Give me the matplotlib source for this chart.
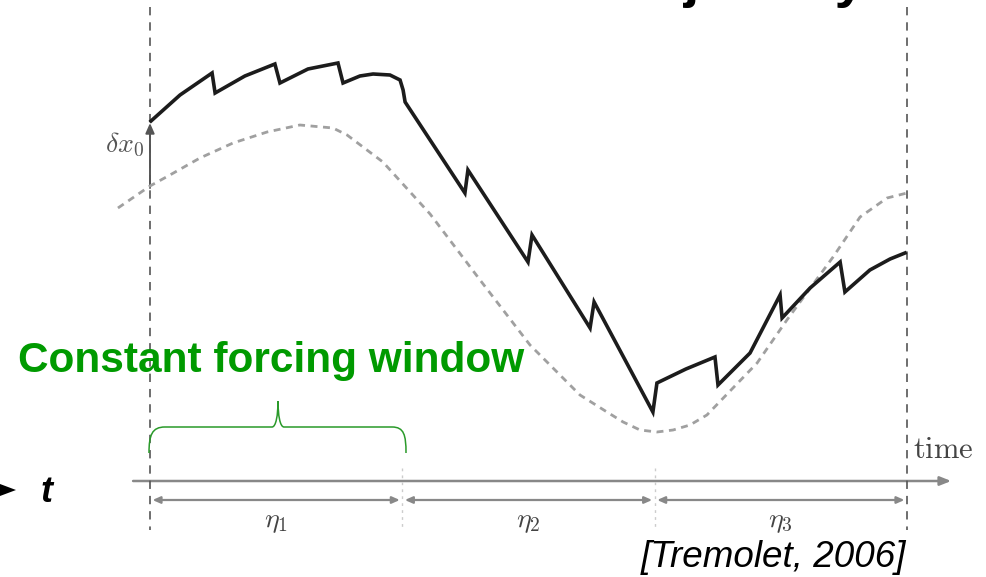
import matplotlib
matplotlib.use("Agg")
import matplotlib.pyplot as plt
from matplotlib.patches import FancyArrowPatch, Rectangle, PathPatch, Polygon
from matplotlib.path import Path

plt.rcParams['mathtext.fontset'] = 'cm'
plt.rcParams['lines.scale_dashes'] = False

# ---------------- data (time in assimilation windows, state in arbitrary units) -------------
window_bounds = [0, 1, 2, 3]
window_labels = [r'$\eta_1$', r'$\eta_2$', r'$\eta_3$']

# weak-constraint trajectory (solid, with jumps at forcing updates)
traj_t = [0.004, 0.119, 0.246, 0.258, 0.376, 0.495, 0.515, 0.626, 0.745, 0.765, 0.832,
          0.884, 0.951, 0.991, 1.003, 1.011, 1.248, 1.260, 1.498, 1.514, 1.744, 1.760,
          1.993, 2.009, 2.124, 2.239, 2.251, 2.378, 2.497, 2.505, 2.616, 2.735, 2.754,
          2.853, 2.933, 2.992]
traj_v = [3.59, 3.85, 4.07, 3.87, 4.04, 4.16, 3.97, 4.11, 4.17, 3.97, 4.04,
          4.06, 4.05, 4.00, 3.90, 3.78, 2.87, 3.10, 2.18, 2.45, 1.52, 1.78,
          0.68, 0.97, 1.11, 1.23, 0.95, 1.27, 1.85, 1.62, 1.92, 2.18, 1.88,
          2.10, 2.21, 2.27]

# background / true trajectory (dashed)
bg_t = [-0.127, 0.000, 0.079, 0.198, 0.329, 0.464, 0.594, 0.725, 0.781, 0.923, 1.110,
        1.308, 1.506, 1.704, 1.811, 1.875, 1.942, 2.009, 2.073, 2.140, 2.207, 2.406,
        2.524, 2.707, 2.814, 2.921, 3.000]
bg_v = [2.72, 2.94, 3.05, 3.22, 3.37, 3.48, 3.55, 3.52, 3.45, 3.18, 2.66,
        2.00, 1.35, 0.85, 0.68, 0.58, 0.50, 0.48, 0.50, 0.55, 0.65, 1.17,
        1.60, 2.23, 2.63, 2.82, 2.87]

dx0_from, dx0_to = 2.92, 3.57

# ---------------- figure ----------------
W, H = 987, 577
fig = plt.figure(figsize=(W / 100, H / 100), dpi=100)
ax = fig.add_axes([0, 0, 1, 1])
ax.set_xlim(-150 / 252.33, 837 / 252.33)
ax.set_ylim(-0.97, 4.80)
ax.axis('off')


def fx(px):
    return px / W


def fy(py):
    return 1 - py / H


clip = Rectangle((-0.198, -0.53), 3.46, 5.26, transform=ax.transData,
                 facecolor='none', edgecolor='none')
ax.add_patch(clip)

# vertical dashed window limits
for tb in [window_bounds[0], window_bounds[-1]]:
    ax.plot([tb, tb], [4.73, -0.50], color='#555555', lw=1.2, dashes=(6, 5))
for tb in window_bounds[1:-1]:
    ax.plot([tb, tb], [0.12, -0.50], color='#cccccc', lw=1.0, dashes=(2, 3))

# dashed background curve
ax.plot(bg_t, bg_v, color='#a0a0a0', lw=2.0, dashes=(5, 4), solid_capstyle='butt')
# solid trajectory
ax.plot(traj_t, traj_v, color='#1c1c1c', lw=2.6, solid_joinstyle='miter')

# delta x0 arrow
ax.add_patch(FancyArrowPatch((0, dx0_from), (0, dx0_to), arrowstyle='-|>,head_length=0.5,head_width=0.22',
                             mutation_scale=12, color='#555555', lw=1.4, shrinkA=0, shrinkB=0))
ax.text(-0.025, 3.35, r'$\delta x_0$', fontsize=20, color='#555555', ha='right', va='center')

# time axis
ax.add_patch(FancyArrowPatch((-0.067, -0.01), (3.175, -0.01), arrowstyle='-|>,head_length=0.55,head_width=0.22',
                             mutation_scale=12, color='#888888', lw=1.8, shrinkA=0, shrinkB=0))
t_time = ax.text(3.024, 0.30, r'$\mathrm{time}$', fontsize=22, color='#444444', ha='left', va='center')
t_time.set_clip_path(clip)

# window double arrows and labels
for i in range(3):
    a, b = window_bounds[i], window_bounds[i + 1]
    ax.add_patch(FancyArrowPatch((a + 0.01, -0.20), (b - 0.01, -0.20),
                                 arrowstyle='<|-|>,head_length=0.45,head_width=0.2',
                                 mutation_scale=10, color='#888888', lw=1.6, shrinkA=0, shrinkB=0))
    tx = ax.text((a + b) / 2, -0.41, window_labels[i], fontsize=20, color='#444444',
                 ha='center', va='center')
    tx.set_clip_path(clip)

# ---------------- slide annotations ----------------
green = '#009a00'
fig.text(fx(18), fy(372), 'Constant forcing window', fontsize=30.5, fontweight='bold',
         color=green, family='Liberation Sans', ha='left', va='baseline')

# brace over first window
brace_verts = [(149, 453), (149, 435), (152, 427), (165, 427),
               (272, 427), (276, 427), (278, 415), (278, 401),
               (278, 415), (280, 427), (284, 427),
               (392, 427), (404, 427), (406, 435), (406, 453)]
brace_codes = [Path.MOVETO, Path.CURVE4, Path.CURVE4, Path.CURVE4,
               Path.LINETO, Path.CURVE4, Path.CURVE4, Path.CURVE4,
               Path.CURVE4, Path.CURVE4, Path.CURVE4,
               Path.LINETO, Path.CURVE4, Path.CURVE4, Path.CURVE4]
brace_fig = [(fx(x), fy(y)) for x, y in brace_verts]
fig.patches.append(PathPatch(Path(brace_fig, brace_codes), transform=fig.transFigure,
                             facecolor='none', edgecolor='#2a9a2a', lw=1.1))

fig.text(fx(906), fy(567), '[Tremolet, 2006]', fontsize=26.5, fontstyle='italic',
         color='black', family='Liberation Sans', ha='right', va='baseline')

# bullet + "t"
fig.patches.append(Polygon([(fx(0), fy(484)), (fx(16), fy(490)), (fx(0), fy(496))],
                           closed=True, transform=fig.transFigure, facecolor='black',
                           edgecolor='none'))
fig.text(fx(40), fy(502), 't', fontsize=26, fontweight='bold', fontstyle='italic',
         color='black', family='Liberation Sans', ha='left', va='baseline')

# slide title (only its descenders reach into the frame)
fig.text(fx(613), fy(-4), 'trajectory', fontsize=40, fontweight='bold',
         color='black', family='Liberation Sans', ha='left', va='baseline')

fig.savefig('out.png', dpi=100)
